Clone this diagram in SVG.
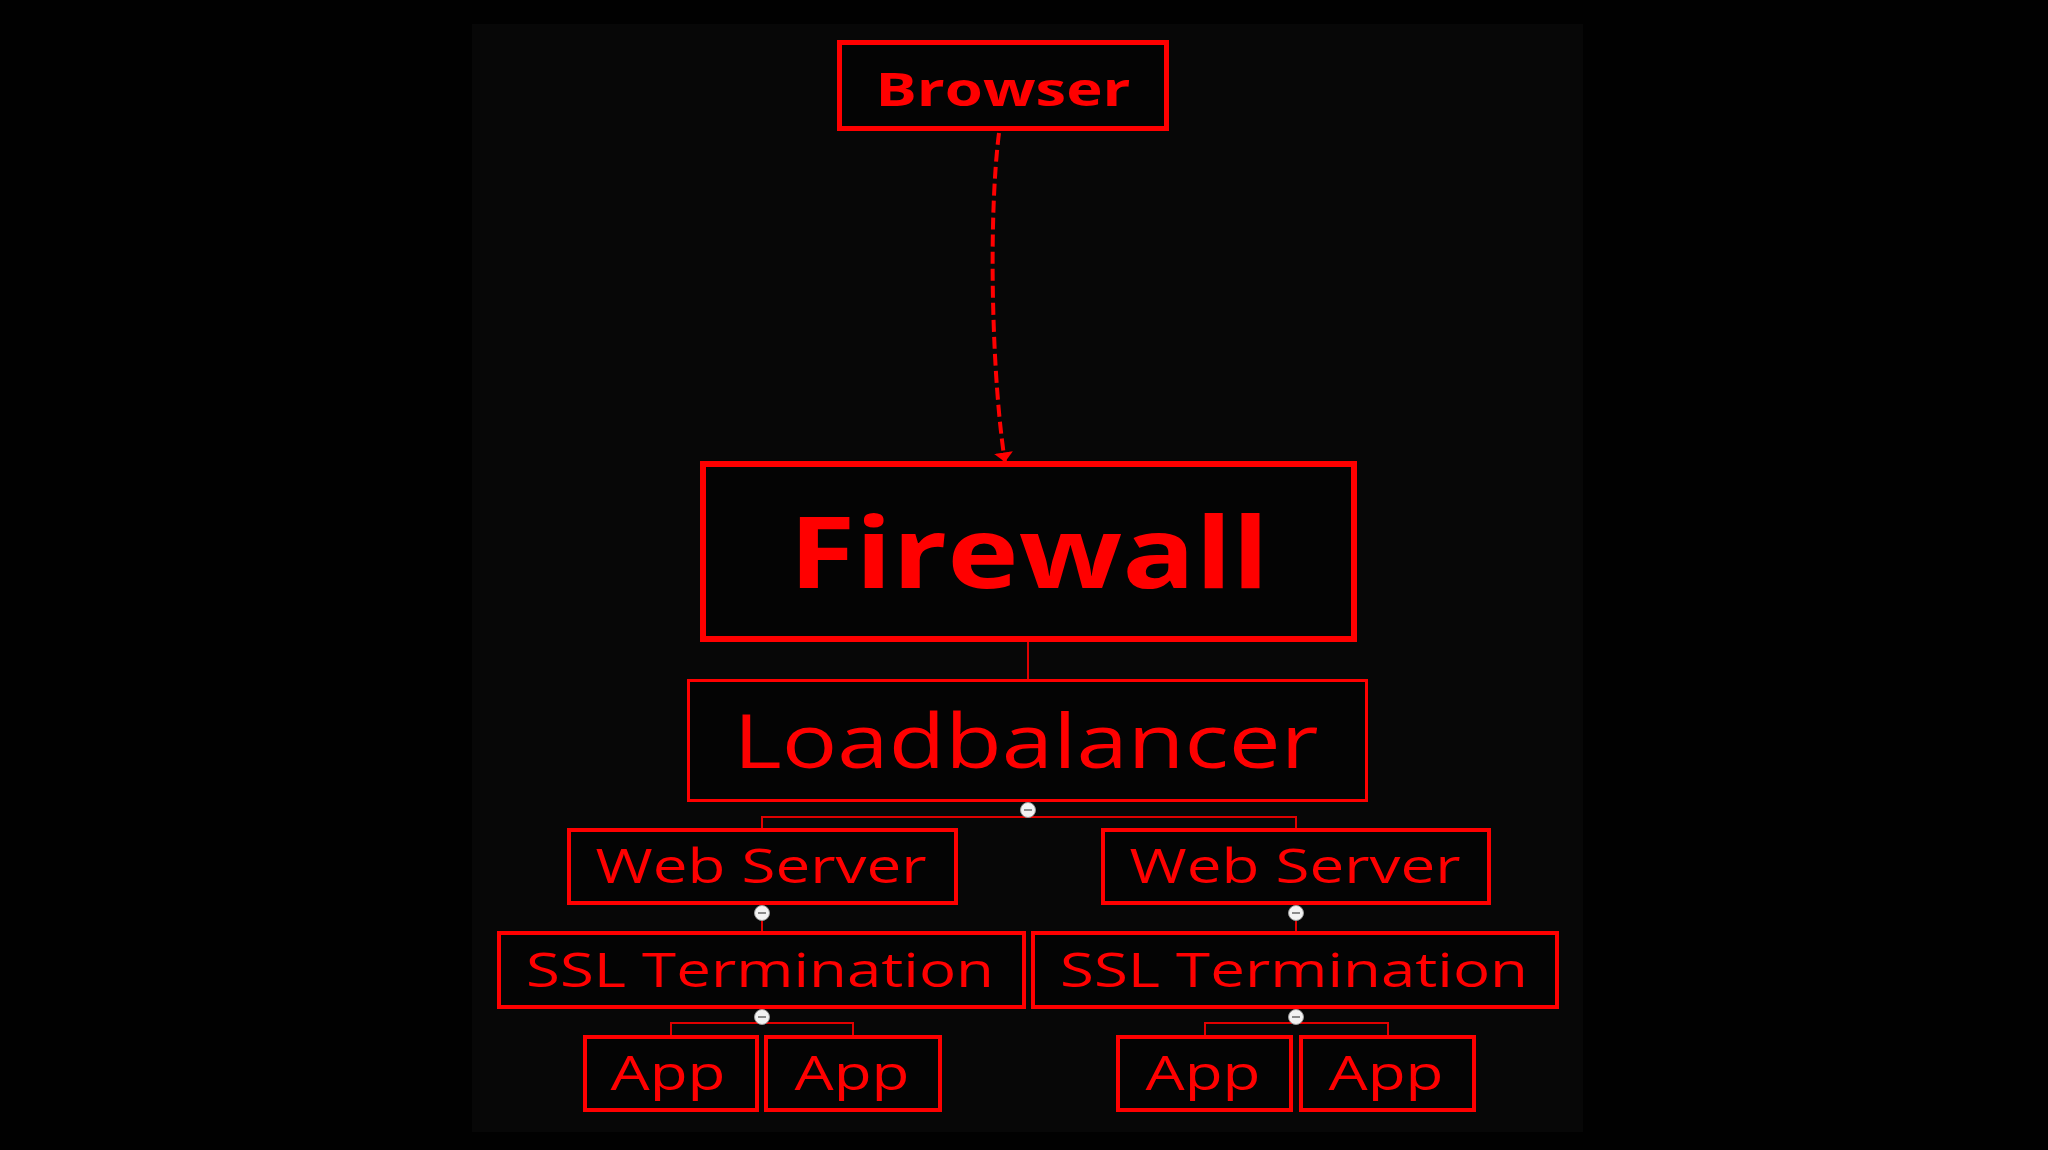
<svg xmlns="http://www.w3.org/2000/svg" width="2048" height="1150" viewBox="0 0 2048 1150">
  <style>
    .box { fill: #040404; stroke: #ff0000; }
    .t { fill: #ff0000; font-family: "Open Sans", "Noto Sans", "DejaVu Sans", sans-serif; text-anchor: middle; }
    .b { font-weight: bold; }
    .c { stroke: #e00000; stroke-width: 2; fill: none; }
    .dash { stroke: #ff0000; stroke-width: 4; stroke-dasharray: 12 5; fill: none; }
    .dot { fill: #f2f2f2; stroke: #9a9a9a; stroke-width: 1; }
    .minus { stroke: #8a8a8a; stroke-width: 2; }
  </style>
  <defs>
    <marker id="arrow" markerUnits="userSpaceOnUse" viewBox="0 0 10 20" refX="10" refY="10" markerWidth="10" markerHeight="19" orient="auto">
      <path d="M0,0 L10,10 L0,20 z" fill="#ff0000"/>
    </marker>
  </defs>
  <rect x="0" y="0" width="2048" height="1150" fill="#010101"/>
  <rect x="472" y="24" width="1111" height="1108" fill="#070707"/>

  <g id="connectors">
    <path class="dash" d="M999,133 C988,220 992,380 1005,462" marker-end="url(#arrow)"/>
    <line class="c" x1="1028" y1="642" x2="1028" y2="679"/>
    <polyline class="c" points="762,828 762,817 1296,817 1296,828"/>
    <line class="c" x1="1028" y1="802" x2="1028" y2="817"/>
    <line class="c" x1="762" y1="905" x2="762" y2="931"/>
    <line class="c" x1="1296" y1="905" x2="1296" y2="931"/>
    <polyline class="c" points="671,1035 671,1023 853,1023 853,1035"/>
    <line class="c" x1="762" y1="1009" x2="762" y2="1023"/>
    <polyline class="c" points="1205,1035 1205,1023 1388,1023 1388,1035"/>
    <line class="c" x1="1296" y1="1009" x2="1296" y2="1023"/>
    <g id="dots">
      <circle class="dot" cx="1028" cy="810" r="7.5"/><line class="minus" x1="1024" y1="810" x2="1032" y2="810"/>
      <circle class="dot" cx="762" cy="913" r="7.5"/><line class="minus" x1="758" y1="913" x2="766" y2="913"/>
      <circle class="dot" cx="1296" cy="913" r="7.5"/><line class="minus" x1="1292" y1="913" x2="1300" y2="913"/>
      <circle class="dot" cx="762" cy="1017" r="7.5"/><line class="minus" x1="758" y1="1017" x2="766" y2="1017"/>
      <circle class="dot" cx="1296" cy="1017" r="7.5"/><line class="minus" x1="1292" y1="1017" x2="1300" y2="1017"/>
    </g>
  </g>

  <g id="browser">
    <rect class="box" x="839.5" y="42.5" width="327" height="86" stroke-width="5"/>
    <text class="t b" x="1003" y="106" font-size="46" textLength="255" lengthAdjust="spacingAndGlyphs">Browser</text>
  </g>
  <g id="firewall">
    <rect class="box" x="703" y="464" width="651" height="175" stroke-width="6"/>
    <text class="t b" x="1029" y="588" font-size="98" textLength="480" lengthAdjust="spacingAndGlyphs">Firewall</text>
  </g>
  <g id="loadbalancer">
    <rect class="box" x="688.5" y="680.5" width="678" height="120" stroke-width="3"/>
    <text class="t" x="1026" y="768" font-size="75" textLength="585" lengthAdjust="spacingAndGlyphs">Loadbalancer</text>
  </g>
  <g id="webserver-left">
    <rect class="box" x="569" y="830" width="387" height="73" stroke-width="4"/>
    <text class="t" x="761" y="883" font-size="47" textLength="331" lengthAdjust="spacingAndGlyphs">Web Server</text>
  </g>
  <g id="webserver-right">
    <rect class="box" x="1103" y="830" width="386" height="73" stroke-width="4"/>
    <text class="t" x="1295" y="883" font-size="47" textLength="331" lengthAdjust="spacingAndGlyphs">Web Server</text>
  </g>
  <g id="ssl-left">
    <rect class="box" x="499" y="933" width="525" height="74" stroke-width="4"/>
    <text class="t" x="760" y="987" font-size="47" textLength="468" lengthAdjust="spacingAndGlyphs">SSL Termination</text>
  </g>
  <g id="ssl-right">
    <rect class="box" x="1033" y="933" width="524" height="74" stroke-width="4"/>
    <text class="t" x="1294" y="987" font-size="47" textLength="468" lengthAdjust="spacingAndGlyphs">SSL Termination</text>
  </g>
  <g id="app-l1">
    <rect class="box" x="585" y="1037" width="172" height="73" stroke-width="4"/>
    <text class="t" x="668" y="1090" font-size="47" textLength="115" lengthAdjust="spacingAndGlyphs">App</text>
  </g>
  <g id="app-l2">
    <rect class="box" x="766" y="1037" width="174" height="73" stroke-width="4"/>
    <text class="t" x="852" y="1090" font-size="47" textLength="115" lengthAdjust="spacingAndGlyphs">App</text>
  </g>
  <g id="app-r1">
    <rect class="box" x="1118" y="1037" width="173" height="73" stroke-width="4"/>
    <text class="t" x="1203" y="1090" font-size="47" textLength="115" lengthAdjust="spacingAndGlyphs">App</text>
  </g>
  <g id="app-r2">
    <rect class="box" x="1301" y="1037" width="173" height="73" stroke-width="4"/>
    <text class="t" x="1386" y="1090" font-size="47" textLength="115" lengthAdjust="spacingAndGlyphs">App</text>
  </g>
</svg>
